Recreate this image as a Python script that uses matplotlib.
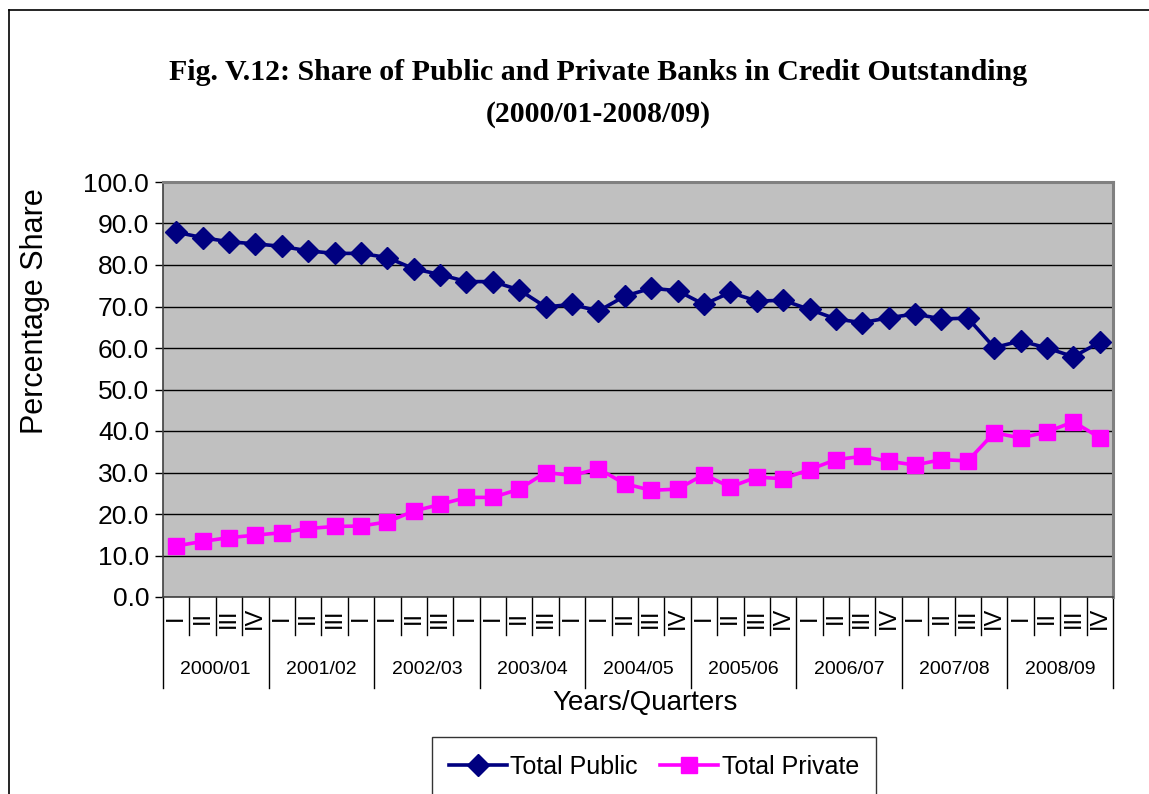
import numpy as np
import matplotlib
matplotlib.use("Agg")
import matplotlib.pyplot as plt
import matplotlib.transforms as mtransforms

years = ["2000/01", "2001/02", "2002/03", "2003/04", "2004/05",
         "2005/06", "2006/07", "2007/08", "2008/09"]
quarters = ["I", "II", "III", "IV",
            "I", "II", "III", "I",
            "I", "II", "III", "I",
            "I", "II", "III", "I",
            "I", "II", "III", "IV",
            "I", "II", "III", "IV",
            "I", "II", "III", "IV",
            "I", "II", "III", "IV",
            "I", "II", "III", "IV"]

total_public = [87.9, 86.6, 85.6, 85.1, 84.5, 83.4, 82.8, 82.8,
                81.8, 79.1, 77.7, 76.0, 76.0, 74.0, 69.9, 70.5,
                68.9, 72.5, 74.4, 73.8, 70.5, 73.4, 71.3, 71.5,
                69.3, 67.0, 66.1, 67.3, 68.2, 67.0, 67.2, 60.1,
                61.7, 60.0, 57.9, 61.4]
total_private = [12.3, 13.4, 14.3, 14.9, 15.5, 16.5, 17.0, 17.1,
                 18.1, 20.7, 22.3, 24.0, 24.0, 26.0, 30.0, 29.3,
                 30.9, 27.3, 25.7, 26.0, 29.5, 26.5, 28.9, 28.5,
                 30.7, 33.1, 33.9, 32.7, 31.8, 33.1, 32.8, 39.6,
                 38.3, 39.8, 42.2, 38.4]

sans = ["Liberation Sans", "DejaVu Sans"]
serif = ["Liberation Serif", "DejaVu Serif"]

W, H = 1149, 794
fig = plt.figure(figsize=(W / 100, H / 100), dpi=100)
fig.patch.set_facecolor("white")

# outer frame (left and top edges)
fig.add_artist(plt.Line2D([9 / W, 9 / W], [0, 1 - 10 / H],
                          transform=fig.transFigure, color="black", lw=1.2))
fig.add_artist(plt.Line2D([9 / W, 1], [1 - 10 / H, 1 - 10 / H],
                          transform=fig.transFigure, color="black", lw=1.2))

fig.text(598 / W, 1 - 72 / H,
         "Fig. V.12: Share of Public and Private Banks in Credit Outstanding",
         ha="center", va="center", fontsize=21.5, fontweight="bold", family=serif)
fig.text(598 / W, 1 - 114 / H, "(2000/01-2008/09)",
         ha="center", va="center", fontsize=21.5, fontweight="bold", family=serif)

ax = fig.add_axes([163 / W, 1 - 597 / H, (1113 - 163) / W, (597 - 182) / H])
ax.set_facecolor("#C0C0C0")

x = np.arange(len(quarters))
ax.plot(x, total_public, color="#000080", lw=2.6, marker="D", ms=11,
        label="Total Public", zorder=3)
ax.plot(x, total_private, color="#FF00FF", lw=2.6, marker="s", ms=11,
        label="Total Private", zorder=3)

ax.set_xlim(-0.5, len(quarters) - 0.5)
ax.set_ylim(0, 100)
ax.set_yticks(np.arange(0, 101, 10))
ax.set_yticklabels([f"{v:.1f}" for v in np.arange(0, 101, 10)],
                   fontsize=19, family=sans)
ax.yaxis.grid(True, color="black", lw=1.0)
ax.set_axisbelow(True)
ax.tick_params(axis="y", direction="out", length=6, width=1, pad=4)
ax.set_xticks([])

for side in ("top", "right"):
    ax.spines[side].set_color("#808080")
    ax.spines[side].set_linewidth(2.2)
for side in ("left", "bottom"):
    ax.spines[side].set_color("#404040")
    ax.spines[side].set_linewidth(1.2)

fig.text(35 / W, 1 - 311 / H, "Percentage Share", rotation=90,
         ha="center", va="center", fontsize=22, family=sans)

# two-level category axis: quarters on top, years underneath
trans = mtransforms.blended_transform_factory(ax.transData, ax.transAxes)
q_depth = -38 / 415
y_depth = -91 / 415
for i in range(len(quarters) + 1):
    xb = i - 0.5
    bottom = y_depth if i % 4 == 0 else q_depth
    ax.plot([xb, xb], [0, bottom], transform=trans, color="black",
            lw=1.0, clip_on=False)
for i, q in enumerate(quarters):
    ax.text(i, -21 / 415, q, transform=trans, rotation=90, ha="center",
            va="center", fontsize=17, family=sans)
for j, yr in enumerate(years):
    ax.text(j * 4 + 1.5, -73 / 415, yr, transform=trans, ha="center",
            va="center", fontsize=14, family=sans)

fig.text(645 / W, 1 - 703 / H, "Years/Quarters", ha="center",
         va="center", fontsize=20, family=sans)

leg = fig.legend(loc="upper center", bbox_to_anchor=(654 / W, 1 - 737 / H),
                 ncol=2, prop={"family": sans, "size": 18},
                 frameon=True, fancybox=False, edgecolor="black",
                 borderpad=0.7, handlelength=2.3, columnspacing=0.9,
                 handletextpad=0.15, borderaxespad=0)
leg.get_frame().set_linewidth(1.0)

fig.savefig("out.png", dpi=100)
